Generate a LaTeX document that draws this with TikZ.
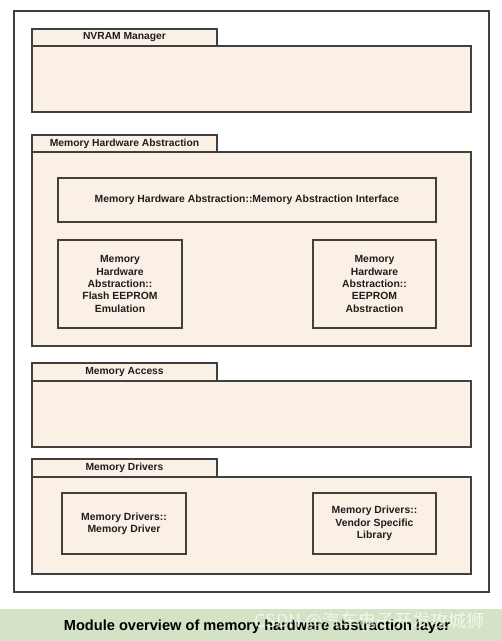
\documentclass[tikz,border=0pt]{standalone}
\usepackage{fontspec}
\setmainfont{Liberation Sans}
\newfontfamily\cjk{Noto Sans CJK SC}
\begin{document}
\begin{tikzpicture}[x=1pt,y=-1pt,
  pkg/.style={draw=linegray,line width=1.3pt,fill=peach},
  box/.style={draw=linegray,line width=1.3pt,fill=peach,inner sep=0pt,align=center,font=\bfseries\fontsize{10.4}{12.3}\selectfont,text=textgray},
  tabtxt/.style={font=\bfseries\fontsize{10.3}{12}\selectfont,text=textgray}]
\definecolor{peach}{HTML}{FBF0E6}
\definecolor{linegray}{HTML}{404040}
\definecolor{textgray}{HTML}{1E1E1E}
\definecolor{band}{HTML}{D4E2C6}
\useasboundingbox (0,0) rectangle (502,641);
\fill[white] (0,0) rectangle (502,641);
% outer frame
\draw[draw=linegray,line width=1.3pt] (14,11) rectangle (489,592);
% NVRAM Manager
\draw[pkg] (32,29) rectangle (217,46);
\draw[pkg] (32,46) rectangle (471,112);
\node[tabtxt] (tnv) at (124.5,37.5) {NVRAM Manager};
% Memory Hardware Abstraction
\draw[pkg] (32,135) rectangle (217,152);
\draw[pkg] (32,152) rectangle (471,346);
\node[tabtxt] (tmha) at (124.5,143.5) {Memory Hardware Abstraction};
\node[box,minimum width=378pt,minimum height=44pt] (mai) at (247,200) {Memory Hardware Abstraction::Memory Abstraction Interface};
\node[box,minimum width=124pt,minimum height=88pt] (fee) at (120,284) {Memory\\Hardware\\Abstraction::\\Flash EEPROM\\Emulation};
\node[box,minimum width=123pt,minimum height=88pt] (ea) at (374.5,284) {Memory\\Hardware\\Abstraction::\\EEPROM\\Abstraction};
% Memory Access
\draw[pkg] (32,363) rectangle (217,381);
\draw[pkg] (32,381) rectangle (471,447);
\node[tabtxt] (tma) at (124.5,372) {Memory Access};
% Memory Drivers
\draw[pkg] (32,459) rectangle (217,477);
\draw[pkg] (32,477) rectangle (471,574);
\node[tabtxt] (tmd) at (124.5,468) {Memory Drivers};
\node[box,minimum width=124pt,minimum height=61pt] (md) at (124,523.5) {Memory Drivers::\\Memory Driver};
\node[box,minimum width=123pt,minimum height=61pt] (vsl) at (374.5,523.5) {Memory Drivers::\\Vendor Specific\\Library};
% caption band
\fill[band] (0,609) rectangle (502,641);
\node[font=\bfseries\fontsize{14.6}{16}\selectfont,text=black] (cap) at (257,627) {Module overview of memory hardware abstraction layer};
\node[font=\cjk\fontsize{18}{20}\selectfont,text=white,opacity=0.7,anchor=east] (wm) at (488,621) {CSDN @汽车电子开发攻城狮};
\end{tikzpicture}
\end{document}
